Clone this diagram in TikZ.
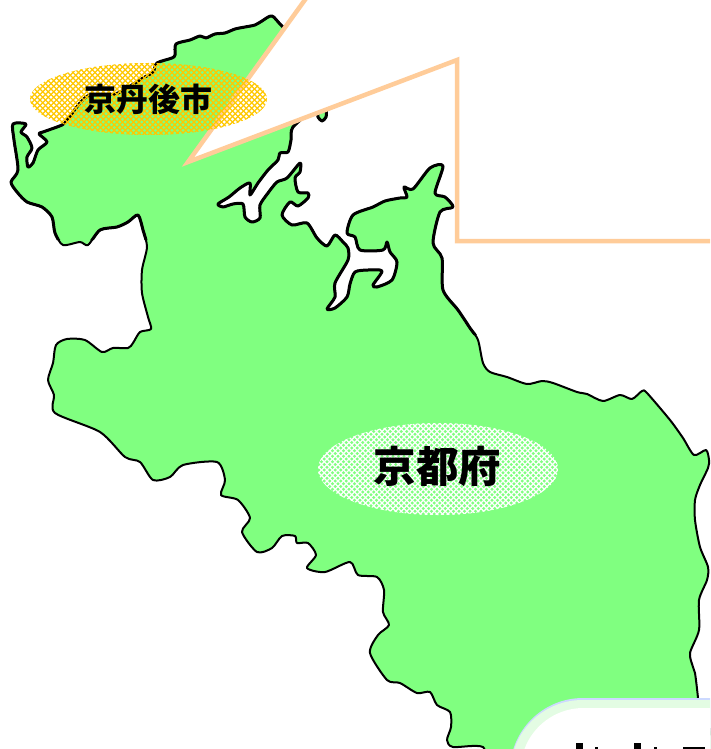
\documentclass[tikz,border=0pt]{standalone}
\usepackage{fontspec}
\newfontfamily\cjk{Noto Sans CJK JP}
\definecolor{landgreen}{HTML}{80FF80}
\definecolor{peach}{HTML}{FFCC99}
\definecolor{hatchorange}{HTML}{FFC800}
\definecolor{boxblue}{HTML}{CCD9FF}
\definecolor{boxgreen}{HTML}{E3FCE3}
\tikzset{
  coastline/.style={insert path={plot[smooth cycle,tension=0.45] coordinates {
(272,16)(283,27)(320,60)(326,108)(326,117)(322,121)(318,117)(316,108)(293,127)
(291,140)(288,152)(280,153)(278,160)(268,170)(258,183)(250,195)(250,183)(240,188)(229,197)(218,204)(223,207)(233,204)(243,204)(245,217)(252,222)(260,218)(260,205)(268,193)(277,182)(287,178)(300,163)(300,172)(295,178)(298,192)(308,193)(308,198)(298,206)(290,202)(282,215)(292,225)(307,223)(317,238)(327,246)(335,235)(343,242)(348,248)(348,260)(335,283)(335,297)(327,309)(335,308)(347,297)(350,284)(355,272)(368,270)(382,271)(373,285)(377,287)(392,280)(397,262)(390,252)(387,242)(383,250)(360,250)(355,237)(347,233)(353,215)(373,207)(385,201)(400,198)(407,197)(404,187)(413,189)(430,168)(443,166)(435,193)(445,197)(453,207)(440,212)(433,243)(442,258)(443,290)(458,310)(470,328)(478,340)(483,363)(490,372)(507,377)(527,384)(542,381)(553,383)(577,392)(587,394)(603,401)(620,395)(632,399)(642,391)(647,393)(670,420)(683,438)(694,455)(706,450)(709,460)(708,468)(700,485)(695,500)(695,520)(700,547)(708,567)(707,580)(699,600)(699,630)(690,653)(693,667)(695,673)(698,698)(705,770)(500,770)(483,747)(453,747)(447,740)(451,727)(450,712)(437,705)(430,692)(417,693)(400,683)(387,680)(370,653)(378,635)(389,625)(383,612)(384,590)(377,577)(358,575)(350,562)(325,572)(307,568)(316,555)(308,543)(297,543)(295,536)(282,536)(272,548)(257,552)(242,532)(250,518)(238,500)(221,495)(225,480)(217,462)(183,465)(170,477)(153,480)(140,462)(125,457)(100,432)(55,413)(54,395)(48,380)(53,363)(56,345)(67,339)(85,340)(102,352)(113,348)(128,348)(133,343)(140,332)(151,329)(148,317)(142,293)(142,270)(147,247)(143,230)(138,215)(128,222)(117,227)(100,230)(88,245)(80,242)(63,245)(55,233)(52,217)(42,207)(27,202)(17,192)(11,182)(18,170)(14,140)(13,124)(26,124)(21,132)(27,137)(32,148)(27,157)(28,167)(33,163)(38,150)(47,142)(39,134)(43,132)(62,125)(67,120)(80,103)(90,95)(115,94)(132,85)(143,78)(153,72)(157,63)(172,58)(175,55)(176,44)(190,40)(200,36)(206,38)(215,34)(225,33)(235,29)(245,27)(255,25)(262,21)}}},
  land/.style={fill=landgreen,draw=black,line width=2pt,line join=round},
  heavycoast/.style={draw=black,line width=3pt,line join=round},
  callout/.style={fill=white,draw=peach,line width=4.5pt,line join=miter,miter limit=20},
  hatchline/.style={line width=1.3pt},
  maplabel/.style={text=black,inner sep=0pt},
  fragment/.style={fill=black,draw=none}
}
\begin{document}
\begin{tikzpicture}[x=1pt,y=-1pt]
\useasboundingbox (0,0) rectangle (710,749);
\clip (0,0) rectangle (710,749);
\fill[white] (0,0) rectangle (710,749);
% prefecture outline
\draw[land,coastline];
\begin{scope}
\clip (0,0) -- (710,0) -- (710,335) -- (200,335) -- (200,240) -- (0,240) -- cycle;
\draw[heavycoast,coastline];
\end{scope}
% callout
\draw[callout] (307,-3) -- (188,162) -- (457,60) -- (457,241) -- (730,241) -- (730,-20) -- (320,-20) -- cycle;
% hatched ellipses
\begin{scope}
\clip (148.5,99) ellipse [x radius=118.5,y radius=36];
\foreach \x in {-60,-54.5,...,300} {
  \draw[hatchline,hatchorange] (\x,55) -- ++(90,90);
  \draw[hatchline,hatchorange] (\x,145) -- ++(90,-90);
}
\end{scope}
\begin{scope}
\clip (438,469) ellipse [x radius=120,y radius=46];
\foreach \x in {250,255.5,...,600} {
  \draw[hatchline,white] (\x,415) -- ++(110,110);
  \draw[hatchline,white] (\x,525) -- ++(110,-110);
}
\end{scope}
\node[maplabel,font=\cjk\bfseries\fontsize{32}{33}\selectfont] (tango) at (148.5,99) {京丹後市};
\node[maplabel,font=\cjk\bfseries\fontsize{42.5}{43}\selectfont] (kyoto) at (437.5,466) {京都府};
% lower right panel
\fill[boxblue,rounded corners=73pt] (510,698) rectangle (800,900);
\fill[boxgreen,rounded corners=72pt] (510.5,700) rectangle (800,900);
\fill[white,rounded corners=63pt] (520.5,708) rectangle (800,900);
% cropped tops of the panel's text
\fill[fragment] (576,743) rectangle (583,749);
\fill[fragment] (595,747) rectangle (598,749);
\fill[fragment] (634,743) rectangle (641,749);
\fill[fragment] (654,747) rectangle (657,749);
\fill[fragment] (683,747) rectangle (705,749);
\end{tikzpicture}
\end{document}
